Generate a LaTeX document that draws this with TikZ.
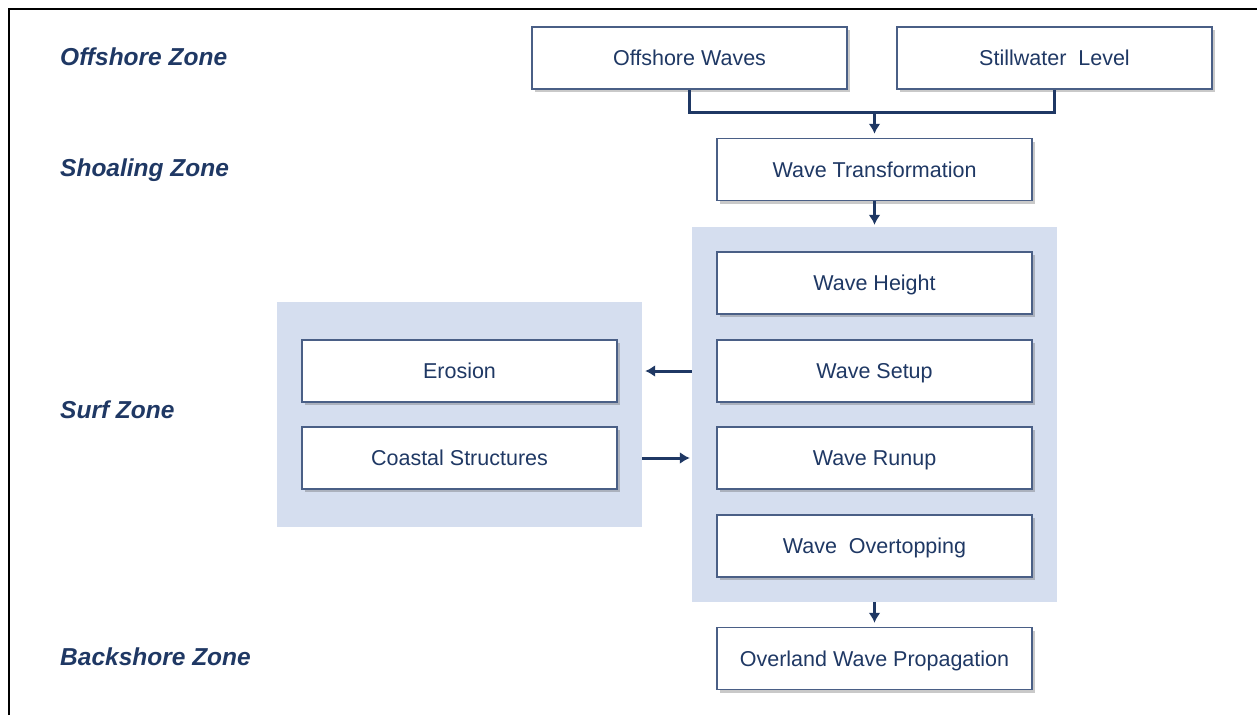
\documentclass[tikz,border=0pt]{standalone}
\usepackage{fontspec}
\setmainfont{Liberation Sans}
\usetikzlibrary{shadows,arrows.meta}
\definecolor{navy}{HTML}{1F3864}
\definecolor{boxline}{HTML}{4A5F86}
\definecolor{panelblue}{HTML}{D5DEEF}
\tikzset{
  flowbox/.style={draw=boxline,line width=1.5pt,fill=white,minimum width=315pt,minimum height=62pt,inner sep=0pt,text height=15.5pt,text depth=0pt,text=navy,font=\fontsize{21.5}{24}\selectfont,drop shadow={shadow xshift=2.5pt,shadow yshift=-3pt,opacity=0.3,fill=black!70}},
  panelbox/.style={fill=panelblue,inner sep=0pt},
  zone/.style={anchor=west,inner sep=0pt,text height=17.5pt,text depth=0pt,text=navy,font=\fontsize{24.5}{28}\selectfont\bfseries\itshape},
  flow/.style={draw=navy,line width=3pt,-{Latex[length=10pt,width=12pt]}},
  mergeline/.style={draw=navy,line width=3pt}
}
\begin{document}
\begin{tikzpicture}[x=1pt,y=-1pt]
				\useasboundingbox(0,0)rectangle(1257,715);
				\draw[line width=2pt](9,715)--(9,9)--(1257,9);
				% zones
				\node[zone](zoff)at(60,57){Offshore Zone};
				\node[zone](zshoal)at(60,168){Shoaling Zone};
				\node[zone](zsurf)at(60,410){Surf Zone};
				\node[zone](zback)at(60,657){Backshore Zone};
				% panels
				\node[panelbox,minimum width=365pt,minimum height=375pt](surfpanel)at(874.5,414.5){};
				\node[panelbox,minimum width=365pt,minimum height=225pt](coastpanel)at(459.5,414.5){};
				% boxes
				\node[flowbox](offwaves)at(689.5,58){Offshore Waves};
				\node[flowbox](still)at(1054.5,58){Stillwater\ \ Level};
				\node[flowbox](transf)at(874.5,169.5){Wave Transformation};
				\node[flowbox](height)at(874.5,283){Wave Height};
				\node[flowbox](setup)at(874.5,371){Wave Setup};
				\node[flowbox](runup)at(874.5,458){Wave Runup};
				\node[flowbox](overtop)at(874.5,546){Wave\ \ Overtopping};
				\node[flowbox](erosion)at(459.5,371){Erosion};
				\node[flowbox](coastal)at(459.5,458){Coastal Structures};
				\node[flowbox](overland)at(874.5,658.5){Overland Wave Propagation};
				% connectors
				\coordinate(merge)at(874.5,112);
				\draw[mergeline](offwaves.south)|-(merge)-|(still.south);
				\draw[flow,shorten >=4pt](merge)--(transf.north);
				\draw[flow,shorten >=2pt](transf.south)--(surfpanel.north);
				\draw[flow,shorten >=3pt](setup.west-|surfpanel.west)--(setup.west-|coastpanel.east);
				\draw[flow,shorten >=2pt](coastal.east-|coastpanel.east)--(coastal.east-|surfpanel.west);
				\draw[flow,shorten >=4pt](surfpanel.south)--(overland.north);
				\end{tikzpicture}
\end{document}
